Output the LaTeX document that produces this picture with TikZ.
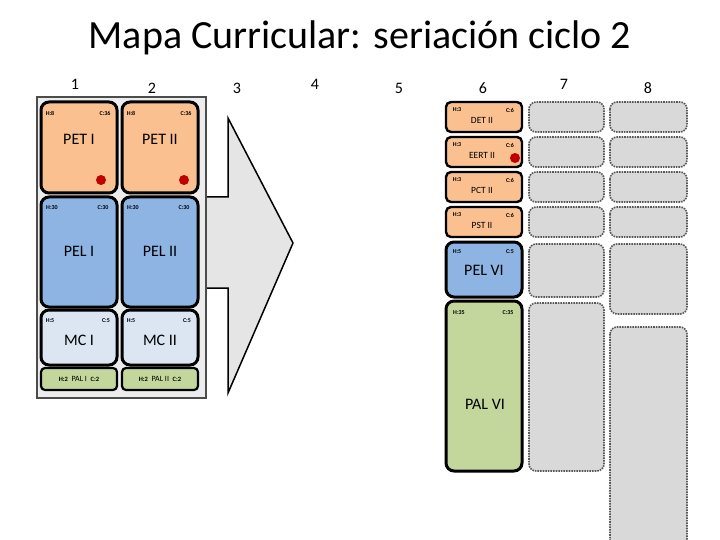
\documentclass[tikz,border=0pt]{standalone}
\usepackage{fontspec}
\setmainfont{Carlito}
\definecolor{pet}{RGB}{250,192,144}
\definecolor{pel}{RGB}{141,180,226}
\definecolor{mc}{RGB}{220,230,242}
\definecolor{pal}{RGB}{195,214,155}
\begin{document}
\begin{tikzpicture}[x=1pt,y=-1pt,
 box/.style={draw=black,line width=3pt,rounded corners=8pt},
 gbox/.style={draw=gray!70!black,densely dotted,line width=1.6pt,fill=gray!30,rounded corners=7pt},
 sm/.style={font=\fontsize{6}{6}\selectfont\bfseries,inner sep=0pt},
 num/.style={font=\fontsize{16}{16}\selectfont},
 dot/.style={circle,fill=red!75!black,inner sep=0pt,minimum size=10pt}]
\useasboundingbox (0,0) rectangle (720,540);
\node (title) at (360,38) {\fontsize{40}{40}\selectfont Mapa Curricular: seriación ciclo 2};
\foreach \n/\x/\y in {1/75/84,2/152/88,3/237/88,4/315/84,5/399/88,6/483/88,7/564/84,8/648/88}
  \node[num] (n\n) at (\x,\y) {\n};
% arrow
\draw[fill=gray!20,line width=1.5pt] (200,197) -- (228,197) -- (228,118) -- (293,243) -- (228,393) -- (228,288) -- (200,288) -- cycle;
% panel
\draw[fill=gray!15,draw=gray!60!black,line width=2.5pt] (37,97) rectangle (206,398);
% left boxes
\foreach \x/\s/\d in {41/I/101,122/II/184}{
 \draw[box,fill=pet] (\x,102) rectangle +(76,91);
 \node[sm] at (\x+9,113) {H:8}; \node[sm] at (\x+64,113) {C:36};
 \node[font=\fontsize{16}{16}\selectfont] at (\x+38,139) {PET \s};
 \node[dot] at (\d,180) {};
 \draw[box,fill=pel] (\x,197) rectangle +(76,110);
 \node[sm] at (\x+11,208) {H:30}; \node[sm] at (\x+62,208) {C:30};
 \node[font=\fontsize{16}{16}\selectfont] at (\x+38,251) {PEL \s};
 \draw[box,fill=mc] (\x,310) rectangle +(76,55);
 \node[sm] at (\x+9,321) {H:5}; \node[sm] at (\x+65,321) {C:5};
 \node[font=\fontsize{16}{16}\selectfont] at (\x+38,340) {MC \s};
 \draw[box,line width=2.2pt,rounded corners=4pt,fill=pal] (\x,368) rectangle +(76,22);
 \node[font=\fontsize{8}{8}\selectfont] at (\x+38,379) {\textbf{\fontsize{6.5}{6.5}\selectfont H:2}\ \ PAL \s\ \ \textbf{\fontsize{6.5}{6.5}\selectfont C:2}};
}
% right column 6
\foreach \y/\t in {102/DET II,137/EERT II,172/PCT II,207/PST II}{
 \draw[box,line width=2.4pt,rounded corners=5pt,fill=pet] (446,\y) rectangle +(76,30);
 \node[sm] at (457,\y+8) {H:3}; \node[sm] at (510,\y+8) {C:6};
 \node[font=\fontsize{9.5}{9.5}\selectfont] at (482,\y+18) {\t};
 \draw[gbox] (529,\y) rectangle +(75,30);
 \draw[gbox] (610,\y) rectangle +(77,30);
}
\node[dot] at (515,158) {};
\draw[box,fill=pel] (446,242) rectangle (522,297);
\node[sm] at (457,252) {H:5}; \node[sm] at (510,252) {C:5};
\node[font=\fontsize{16}{16}\selectfont] at (484,270) {PEL VI};
\draw[box,fill=pal] (446,301) rectangle (522,471);
\node[sm] at (459,313) {H:35}; \node[sm] at (508,313) {C:35};
\node[font=\fontsize{16}{16}\selectfont] at (485,404) {PAL VI};
\draw[gbox] (529,244) rectangle (604,297);
\draw[gbox] (529,303) rectangle (604,471);
\draw[gbox] (610,244) rectangle (687,314);
\draw[gbox] (610,327) rectangle (687,560);
\end{tikzpicture}
\end{document}
